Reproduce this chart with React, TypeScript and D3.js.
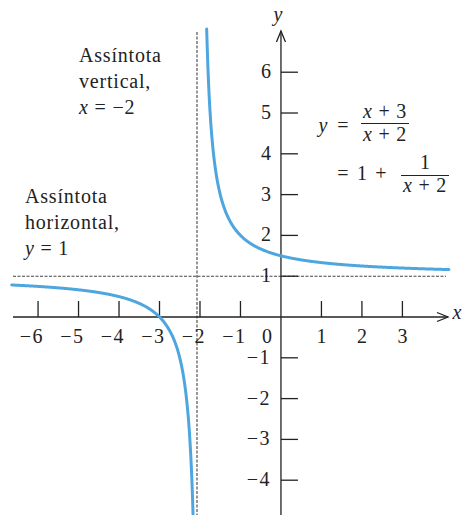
import React from "react";
import * as d3 from "d3";

// Graph of y = (x + 3) / (x + 2) with its asymptotes x = -2 and y = 1
const xTicks = [-6, -5, -4, -3, -2, -1, 1, 2, 3];
const yTicks = [-4, -3, -2, -1, 1, 2, 3, 4, 5, 6];
const verticalAsymptote = -2;
const horizontalAsymptote = 1;
const leftBranch = [-6.65, -2.17];
const rightBranch = [-1.835, 4.15];

const W = 465;
const H = 515;
const FONT = "'Liberation Serif', 'Times New Roman', serif";
const CURVE = "#4ea6de";
const INK = "#222";
const FS = 20;

const f = (x: number) => (x + 3) / (x + 2);
const minus = (v: number) => (v < 0 ? "\u2212" + Math.abs(v) : String(v));

export default function App() {
  const x = d3.scaleLinear().domain([-6.94, 4.546]).range([0, W]);
  const y = d3.scaleLinear().domain([7.77, -4.853]).range([0, H]);

  const line = d3
    .line<number>()
    .x((d) => x(d))
    .y((d) => y(f(d)))
    .curve(d3.curveBasis);

  const sample = ([a, b]: number[], n: number) => {
    const pts: number[] = [];
    for (let i = 0; i <= n; i++) pts.push(a + ((b - a) * i) / n);
    return pts;
  };
  const leftPts = sample(leftBranch, 400);
  const rightPts = sample(rightBranch, 400);

  const x0 = x(0);
  const y0 = y(0);
  const axisLeft = 13;
  const axisRight = 448;
  const axisTop = 31;

  return (
    <svg
      width={W}
      height={H}
      style={{ position: "absolute", left: 0, top: 0, background: "#fff" }}
      fontFamily={FONT}
    >
      {/* asymptotes */}
      <line
        x1={x(verticalAsymptote) - 3}
        x2={x(verticalAsymptote) - 3}
        y1={32}
        y2={H}
        stroke="#444"
        strokeWidth={1.1}
        strokeDasharray="3,1.5"
      />
      <line
        x1={axisLeft}
        x2={446}
        y1={y(horizontalAsymptote)}
        y2={y(horizontalAsymptote)}
        stroke="#444"
        strokeWidth={1.1}
        strokeDasharray="3,1.5"
      />

      {/* axes */}
      <line x1={axisLeft} x2={axisRight} y1={y0} y2={y0} stroke={INK} strokeWidth={1.3} />
      <path
        d={`M${axisRight - 11},${y0 - 4.5} L${axisRight},${y0} L${axisRight - 11},${y0 + 4.5}`}
        fill="none"
        stroke={INK}
        strokeWidth={1.3}
      />
      <line x1={x0} x2={x0} y1={H} y2={axisTop} stroke={INK} strokeWidth={1.3} />
      <path
        d={`M${x0 - 4.5},${axisTop + 11} L${x0},${axisTop} L${x0 + 4.5},${axisTop + 11}`}
        fill="none"
        stroke={INK}
        strokeWidth={1.3}
      />
      <text x={457} y={319} fontSize={FS} fontStyle="italic" textAnchor="middle" fill={INK}>
        x
      </text>
      <text x={x0 - 3} y={21} fontSize={FS} fontStyle="italic" textAnchor="middle" fill={INK}>
        y
      </text>

      {/* x ticks */}
      {xTicks.map((t) => (
        <g key={"xt" + t}>
          <line x1={x(t)} x2={x(t)} y1={y0} y2={y0 - 16} stroke={INK} strokeWidth={1.3} />
          <text
            x={x(t)}
            y={y0 + 26}
            fontSize={FS}
            textAnchor={t < 0 ? "end" : "middle"}
            dx={t < 0 ? 6 : 0}
            letterSpacing={t < 0 ? 1.5 : 0}
            fill={INK}
          >
            {minus(t)}
          </text>
        </g>
      ))}
      <text x={x0 - 14} y={y0 + 26} fontSize={FS} textAnchor="middle" fill={INK}>
        0
      </text>

      {/* y ticks */}
      {yTicks.map((t) => (
        <g key={"yt" + t}>
          <line x1={x0} x2={x0 + 17} y1={y(t)} y2={y(t)} stroke={INK} strokeWidth={1.3} />
          <text
            x={x0 - 10}
            y={y(t) + 6}
            fontSize={FS}
            textAnchor="end"
            letterSpacing={t < 0 ? 1.5 : 0}
            fill={INK}
          >
            {minus(t)}
          </text>
        </g>
      ))}

      {/* curve */}
      <path d={line(leftPts) ?? ""} fill="none" stroke={CURVE} strokeWidth={3} strokeLinecap="round" />
      <path d={line(rightPts) ?? ""} fill="none" stroke={CURVE} strokeWidth={3} strokeLinecap="round" />

      {/* annotations */}
      <g fontSize={FS} fill={INK} letterSpacing={0.8}>
        <text x={79} y={62}>Assíntota</text>
        <text x={79} y={88}>vertical,</text>
        <text x={79} y={114}>
          <tspan fontStyle="italic">x</tspan>
          <tspan> =  {"\u2212"}2</tspan>
        </text>
        <text x={25} y={203}>Assíntota</text>
        <text x={25} y={229}>horizontal,</text>
        <text x={25} y={255}>
          <tspan fontStyle="italic">y</tspan>
          <tspan> = 1</tspan>
        </text>
      </g>

      {/* equation */}
      <g fontSize={FS} fill={INK}>
        <text x={323} y={132} fontStyle="italic" textAnchor="middle">y</text>
        <text x={343} y={132} textAnchor="middle">=</text>
        <text x={385} y={118} textAnchor="middle" letterSpacing={0.8}>
          <tspan fontStyle="italic">x</tspan>
          <tspan> + 3</tspan>
        </text>
        <line x1={361} x2={409} y1={123.5} y2={123.5} stroke={INK} strokeWidth={1.2} />
        <text x={385} y={141} textAnchor="middle" letterSpacing={0.8}>
          <tspan fontStyle="italic">x</tspan>
          <tspan> + 2</tspan>
        </text>

        <text x={343} y={180} textAnchor="middle">=</text>
        <text x={362} y={180} textAnchor="middle">1</text>
        <text x={381} y={180} textAnchor="middle">+</text>
        <text x={425} y={169} textAnchor="middle">1</text>
        <line x1={401} x2={449} y1={175.5} y2={175.5} stroke={INK} strokeWidth={1.2} />
        <text x={425} y={192} textAnchor="middle" letterSpacing={0.8}>
          <tspan fontStyle="italic">x</tspan>
          <tspan> + 2</tspan>
        </text>
      </g>
    </svg>
  );
}
